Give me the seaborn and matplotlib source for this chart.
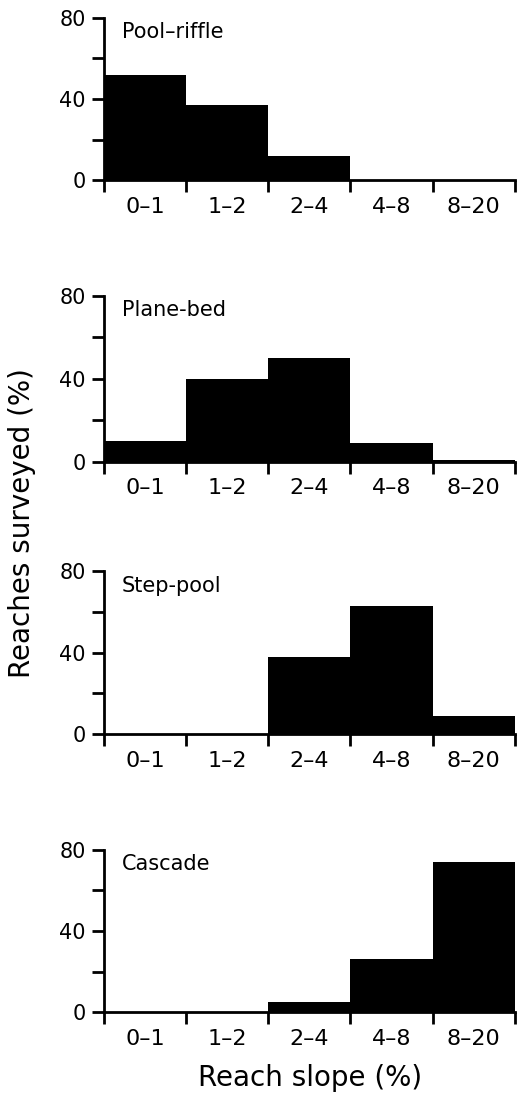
import matplotlib
matplotlib.use("Agg")
import matplotlib.pyplot as plt
import pandas as pd
import seaborn as sns

slope_classes = ["0–1", "1–2", "2–4", "4–8", "8–20"]
pool_riffle = [52, 37, 12, 0, 0]
plane_bed = [10, 40, 50, 9, 1]
step_pool = [0, 0, 38, 63, 9]
cascade = [0, 0, 5, 26, 74]

panels = [("Pool–riffle", pool_riffle), ("Plane-bed", plane_bed),
          ("Step-pool", step_pool), ("Cascade", cascade)]

sns.set_theme(style="ticks", rc={"axes.edgecolor": "black",
                                 "xtick.color": "black",
                                 "ytick.color": "black",
                                 "text.color": "black"})
plt.rcParams['font.family'] = ['DejaVu Sans']

fig = plt.figure(figsize=(5.19, 10.99), dpi=100)

# axes boxes in figure fraction (left, bottom, width, height)
boxes = [(0.200, 0.836, 0.792, 0.148),
         (0.200, 0.580, 0.792, 0.151),
         (0.200, 0.332, 0.792, 0.148),
         (0.200, 0.079, 0.792, 0.148)]

for (name, vals), box in zip(panels, boxes):
    ax = fig.add_axes(box)
    df = pd.DataFrame({"slope": slope_classes, "pct": vals})
    sns.barplot(data=df, x="slope", y="pct", color="black", width=1.0,
                saturation=1, edgecolor="black", linewidth=0, ax=ax)
    ax.set_xlim(-0.5, len(slope_classes) - 0.5)
    ax.set_ylim(0, 80)
    ax.set_yticks([0, 40, 80])
    ax.set_yticks([20, 60], minor=True)
    ax.set_xticks([i - 0.5 for i in range(len(slope_classes) + 1)], minor=True)
    ax.tick_params(axis="x", which="major", length=0, labelsize=16, pad=12)
    ax.tick_params(axis="x", which="minor", length=8.5, width=2, direction="out")
    ax.tick_params(axis="y", which="major", length=9, width=2, labelsize=15, pad=4)
    ax.tick_params(axis="y", which="minor", length=9, width=2)
    for s in ["top", "right"]:
        ax.spines[s].set_visible(False)
    for s in ["left", "bottom"]:
        ax.spines[s].set_linewidth(2)
    ax.set_xlabel("")
    ax.set_ylabel("")
    ax.text(0.044, 0.975, name, transform=ax.transAxes, fontsize=15,
            ha="left", va="top")

fig.text(0.042, 0.524, "Reaches surveyed (%)", rotation=90, fontsize=20,
         ha="center", va="center")
fig.text(0.598, 0.019, "Reach slope (%)", fontsize=20, ha="center", va="center")

fig.savefig("out.png", dpi=100)
